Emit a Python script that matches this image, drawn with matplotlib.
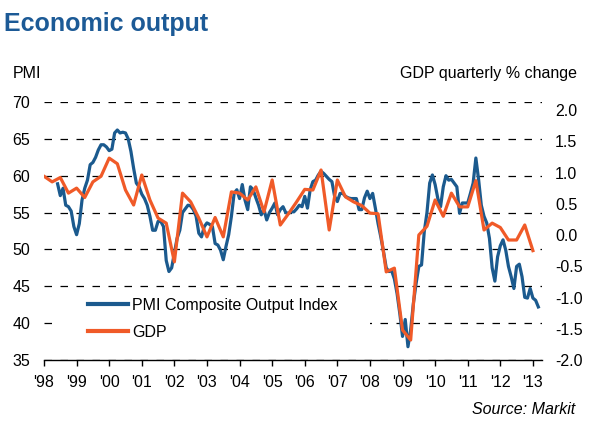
import matplotlib
matplotlib.use('Agg')
import matplotlib.pyplot as plt
from matplotlib.patches import Rectangle
import numpy as np

plt.rcParams['font.family'] = ['Liberation Sans', 'DejaVu Sans']

# PMI Composite Output Index, monthly from Jun 1998 to Mar 2013
pmi_start = 1998 + 5 / 12
pmi = [58.9, 57.3, 58.3, 56.0, 55.8, 55.2, 53.1, 52.0, 53.5, 56.7, 58.3, 59.4,
       61.5, 61.8, 62.5, 63.5, 64.2, 64.2, 63.9, 63.4, 63.6, 65.8, 66.2, 65.8,
       65.9, 65.8, 65.0, 63.3, 61.0, 59.0, 58.5, 57.5, 56.9, 56.0, 54.5, 52.6,
       52.6, 53.8, 53.8, 53.1, 48.5, 47.0, 47.5, 49.5, 51.5, 52.6, 55.0, 55.5,
       56.0, 55.9, 55.4, 54.5, 52.2, 51.7, 53.1, 53.6, 53.4, 53.1, 50.8, 50.6,
       49.9, 48.6, 50.4, 52.0, 54.5, 57.6, 58.1, 56.9, 58.8, 56.7, 55.4, 58.5,
       58.1, 57.0, 56.0, 54.7, 55.4, 54.0, 55.0, 55.6, 56.3, 54.7, 55.4, 55.8,
       55.0, 54.9, 55.1, 55.1, 55.5, 56.0, 55.8, 57.2, 55.6, 58.1, 59.2, 59.4,
       60.1, 60.6, 60.3, 59.9, 59.5, 59.2, 57.2, 56.5, 57.6, 57.6, 57.2, 57.0,
       56.9, 56.9, 56.9, 55.4, 55.4, 57.0, 57.9, 56.9, 57.6, 55.6, 53.5, 51.7,
       49.7, 47.5, 47.0, 47.1, 46.0, 44.0, 41.3, 38.2, 40.5, 36.8, 39.1, 42.7,
       45.4, 47.7, 47.9, 52.4, 55.0, 59.0, 60.1, 58.8, 56.9, 55.8, 58.5, 60.0,
       59.4, 59.5, 59.0, 58.5, 54.9, 56.3, 56.3, 56.3, 57.6, 59.0, 62.4, 59.5,
       56.0, 54.5, 53.6, 51.5, 47.5, 45.7, 49.0, 50.5, 51.3, 49.9, 47.7, 46.3,
       44.7, 47.7, 48.0, 46.3, 43.5, 43.4, 44.7, 43.4, 43.1, 42.2]

# GDP quarterly % change, Q1 1998 to Q1 2013
gdp_start = 1998.0
gdp = [0.94, 0.85, 0.92, 0.67, 0.75, 0.60, 0.85, 0.94, 1.23, 1.14, 0.72, 0.48,
       0.96, 0.56, 0.27, 0.19, -0.43, 0.67, 0.53, 0.27, -0.03, 0.28, -0.03, 0.69,
       0.67, 0.56, 0.77, 0.37, 0.88, 0.16, 0.34, 0.53, 0.73, 0.72, 1.04, 0.08,
       0.88, 0.61, 0.53, 0.47, 0.35, 0.34, -0.59, -0.53, -1.52, -1.68, 0.0, 0.14,
       0.56, 0.30, 0.67, 0.45, 0.45, 0.87, 0.08, 0.19, 0.12, -0.08, -0.08, 0.16,
       -0.25]

years = list(range(1998, 2014))
year_labels = ["'%02d" % (y % 100) for y in years]

blue = '#1B5A8E'
orange = '#F05A28'

pmi_x = pmi_start + np.arange(len(pmi)) / 12
gdp_x = gdp_start + np.arange(len(gdp)) / 4

W, H = 608, 436
fig = plt.figure(figsize=(W / 100, H / 100), dpi=100)
ax = fig.add_axes([44 / W, 1 - 360 / H, (541.7 - 44) / W, (360 - 102) / H])
ax2 = ax.twinx()

ax.set_xlim(1998, 2013.27)
ax.set_ylim(35, 70)
ax2.set_ylim(-2.0, 2.128)

ax.set_yticks(np.arange(35, 71, 5))
ax2.set_yticks(np.arange(-2.0, 2.01, 0.5))
ax2.set_yticklabels(['%.1f' % v for v in np.arange(-2.0, 2.01, 0.5)])
ax.set_xticks(years)
ax.set_xticklabels(year_labels)

ax.yaxis.grid(True, linestyle=(0, (6, 6.8)), linewidth=0.9, color='black')
for a in (ax, ax2):
    for s in ('top', 'left', 'right'):
        a.spines[s].set_visible(False)
    a.tick_params(axis='y', length=0, labelsize=11.5, colors='black')
ax2.spines['bottom'].set_visible(False)
ax.spines['bottom'].set_linewidth(1.0)
ax.tick_params(axis='y', pad=10)
ax2.tick_params(axis='y', pad=9.5)
ax.tick_params(axis='x', direction='out', length=4.5, width=1.0, labelsize=11.5, pad=6)

# white block behind the legend, hides the gridline there
ax.add_patch(Rectangle((60 / W, 1 - 350 / H), 310 / W, 55 / H, transform=fig.transFigure,
                       facecolor='white', edgecolor='none', zorder=1.8, clip_on=False))

l1, = ax.plot(pmi_x, pmi, color=blue, lw=2.3, zorder=3, label='PMI Composite Output Index')
l2, = ax2.plot(gdp_x, gdp, color=orange, lw=2.3, zorder=3, label='GDP')

h1 = plt.Line2D([], [], color=blue, lw=3)
h2 = plt.Line2D([], [], color=orange, lw=3)
ax2.legend([h1, h2], ['PMI Composite Output Index', 'GDP'], loc='upper left',
           bbox_to_anchor=(88 / W, 1 - 298 / H), bbox_transform=fig.transFigure,
           frameon=False, fontsize=11.5, handlelength=2.5, handletextpad=0.25,
           labelspacing=0.75, borderpad=0, borderaxespad=0)

fig.text(4 / W, 1 - 12 / H, 'Economic output', fontsize=18, fontweight='bold',
         color='#1C5A96', ha='left', va='top')
fig.text(13 / W, 1 - 73 / H, 'PMI', fontsize=11.5, ha='left', va='center')
fig.text(577 / W, 1 - 73 / H, 'GDP quarterly % change', fontsize=11.5, ha='right', va='center')
fig.text(575 / W, 1 - 409 / H, 'Source: Markit', fontsize=11.5, style='italic',
         ha='right', va='center')

fig.savefig('out.png', dpi=100)
